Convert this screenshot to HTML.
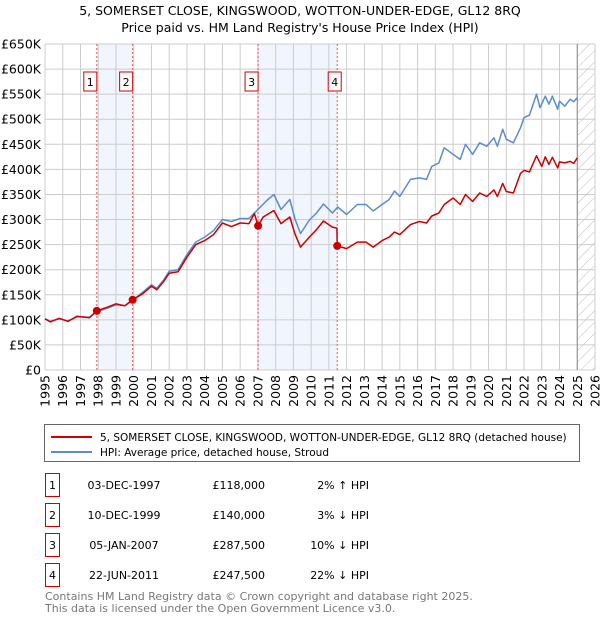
<!DOCTYPE html>
<html><head><meta charset="utf-8"><style>
body{margin:0;background:#fff;font-family:"Liberation Sans","DejaVu Sans",sans-serif;}
#wrap{position:relative;width:600px;height:620px;overflow:hidden}
svg text{font-family:"DejaVu Sans","Liberation Sans",sans-serif}
</style></head><body><div id="wrap">
<svg id="chart" width="600" height="620"></svg>
</div>
<script>
const yearTicks=[1995,1996,1997,1998,1999,2000,2001,2002,2003,2004,2005,2006,2007,2008,2009,2010,2011,2012,2013,2014,2015,2016,2017,2018,2019,2020,2021,2022,2023,2024,2025,2026];
const priceTicks=[0,50,100,150,200,250,300,350,400,450,500,550,600,650];
const priceLabels=["£0","£50K","£100K","£150K","£200K","£250K","£300K","£350K","£400K","£450K","£500K","£550K","£600K","£650K"];
const hpiT=[1995,1995.3,1995.8,1996.3,1996.8,1997.5,1997.9,1998.5,1999,1999.5,1999.9,2000.5,2001,2001.3,2001.7,2002,2002.5,2003,2003.5,2004,2004.5,2005,2005.5,2006,2006.5,2007,2007.5,2007.9,2008.3,2008.8,2009.1,2009.4,2009.9,2010.3,2010.7,2011.2,2011.5,2012,2012.6,2013.1,2013.5,2014,2014.4,2014.7,2015,2015.6,2016.1,2016.5,2016.8,2017.2,2017.5,2018,2018.4,2018.7,2019.1,2019.5,2019.9,2020.3,2020.5,2020.8,2021,2021.4,2021.8,2022,2022.3,2022.7,2022.9,2023.2,2023.4,2023.6,2023.9,2024,2024.3,2024.6,2024.8,2025];
const hpiV=[102,97,102,98,106,105,116,123,130,128,138,155,170,163,180,197,200,230,255,265,278,300,296,302,302,320,338,350,320,340,300,272,299,313,331,313,325,310,330,330,317,330,340,357,346,380,383,380,406,413,443,430,420,450,430,453,446,463,446,480,460,453,483,503,508,550,523,546,530,546,520,536,526,540,535,543];
const redT=[1995,1995.3,1995.8,1996.3,1996.8,1997.5,1997.92,1998.5,1999,1999.5,1999.94,2000.5,2001,2001.3,2001.7,2002,2002.5,2003,2003.5,2004,2004.5,2005,2005.5,2006,2006.5,2006.8,2007.01,2007.3,2007.9,2008.3,2008.8,2009.1,2009.4,2009.9,2010.3,2010.7,2011.2,2011.45,2011.47,2012,2012.6,2013.1,2013.5,2014,2014.4,2014.7,2015,2015.6,2016.1,2016.5,2016.8,2017.2,2017.5,2018,2018.4,2018.7,2019.1,2019.5,2019.9,2020.3,2020.5,2020.8,2021,2021.4,2021.8,2022,2022.3,2022.7,2023,2023.2,2023.4,2023.6,2023.9,2024,2024.3,2024.6,2024.8,2025];
const redV=[102,96,103,97,107,104,118,125,132,128,140,152,167,160,177,193,196,225,250,258,270,293,286,293,292,312,287.5,305,318,292,305,270,245,265,280,297,285,283,247.5,242,255,255,245,258,265,275,270,290,296,293,307,313,330,343,330,350,336,353,346,359,346,372,356,353,392,398,395,427,406,425,410,424,403,415,413,416,412,423];
const saleT=[1997.92,1999.94,2007.01,2011.47];
const saleV=[118,140,287.5,247.5];
const saleLabels=["1","2","3","4"];
const saleDates=["03-DEC-1997","10-DEC-1999","05-JAN-2007","22-JUN-2011"];
const salePrices=["£118,000","£140,000","£287,500","£247,500"];
const saleHpi=["2% ↑ HPI","3% ↓ HPI","10% ↓ HPI","22% ↓ HPI"];

const NS="http://www.w3.org/2000/svg";
const svg=document.getElementById('chart');
const L=45,R=595,T=44,B=370;
const X=t=>L+(t-1995)/(2026-1995)*(R-L);
const Y=v=>B-v/650*(B-T);
function mk(tag,attrs,parent){const e=document.createElementNS(NS,tag);for(const k in attrs)e.setAttribute(k,attrs[k]);(parent||svg).appendChild(e);return e;}
function tx(s,attrs,name){const e=mk('text',attrs);e.textContent=s;


return e;}

tx("5, SOMERSET CLOSE, KINGSWOOD, WOTTON-UNDER-EDGE, GL12 8RQ",{x:300,y:15,'text-anchor':'middle','font-size':12.5,fill:'#000'},'chart-title');
tx("Price paid vs. HM Land Registry's House Price Index (HPI)",{x:300,y:32,'text-anchor':'middle','font-size':12.5,fill:'#000'},'chart-subtitle');

[[0,1],[2,3]].forEach(p=>{const r=mk('rect',{x:X(saleT[p[0]]),y:T,width:X(saleT[p[1]])-X(saleT[p[0]]),height:B-T,fill:'#eef3fc',opacity:0.8});

});
const defs=mk('defs',{});
const pat=mk('pattern',{id:'h',width:8,height:8,patternUnits:'userSpaceOnUse',patternTransform:'rotate(45)'},defs);
mk('line',{x1:0,y1:0,x2:0,y2:8,stroke:'#bbb','stroke-width':1},pat);
const hr=mk('rect',{x:X(2025),y:T,width:R-X(2025),height:B-T,fill:'url(#h)'});


yearTicks.forEach(t=>{const l=mk('line',{x1:X(t),x2:X(t),y1:T,y2:B,stroke:'#ccc','stroke-width':1});


tx(String(t),{transform:`translate(${X(t)+4.5},375) rotate(-90)`,'text-anchor':'end','font-size':12.5,fill:'#000'},'x-tick-label');});
priceTicks.forEach((v,i)=>{const l=mk('line',{x1:L,x2:R,y1:Y(v),y2:Y(v),stroke:'#ccc','stroke-width':1});


tx(priceLabels[i],{x:41,y:Y(v)+4.5,'text-anchor':'end','font-size':12.5,fill:'#000'},'y-tick-label');});
const vl=mk('line',{x1:X(2025),x2:X(2025),y1:T,y2:B,stroke:'#888','stroke-width':1});


saleT.forEach((t,i)=>{const l=mk('line',{x1:X(t),x2:X(t),y1:T,y2:B,stroke:'#e55','stroke-width':1,'stroke-dasharray':'2,2'});


const bx=X(t)-(i==3?9:13);
const r=mk('rect',{x:bx,y:72,width:13,height:19,fill:'#fff',stroke:'#c00','stroke-width':1});


tx(saleLabels[i],{x:bx+6.5,y:86,'text-anchor':'middle','font-size':11,fill:'#000'},'sale-label-number');});
function line(ts,vs,color,name){const d=ts.map((t,i)=>(i?'L':'M')+X(t).toFixed(1)+','+Y(vs[i]).toFixed(1)).join('');
const p=mk('path',{d,fill:'none',stroke:color,'stroke-width':1.5,'stroke-linejoin':'round'});

}
line(hpiT,hpiV,'#5b8bd0','hpi-line');
line(redT,redV,'#cc0000','price-paid-line');
saleT.forEach((t,i)=>{const c=mk('circle',{cx:X(t),cy:Y(saleV[i]),r:4,fill:'#cc0000'});

});
const lg=mk('rect',{x:44.5,y:424.5,width:535,height:37,fill:'#fff',stroke:'#666','stroke-width':1});


const l1=mk('line',{x1:51,x2:92,y1:437,y2:437,stroke:'#cc0000','stroke-width':2});


const l2=mk('line',{x1:51,x2:92,y1:452,y2:452,stroke:'#5b8bd0','stroke-width':2});


tx("5, SOMERSET CLOSE, KINGSWOOD, WOTTON-UNDER-EDGE, GL12 8RQ (detached house)",{x:100,y:441,'font-size':10.5,fill:'#000'},'legend-entry-price');
tx("HPI: Average price, detached house, Stroud",{x:100,y:456,'font-size':10.5,fill:'#000'},'legend-entry-hpi');
saleT.forEach((t,i)=>{const y=483+i*30;
const r=mk('rect',{x:45.5,y:y-9.5,width:14,height:23,fill:'none',stroke:'#c00','stroke-width':1});


tx(saleLabels[i],{x:52.5,y:y+6,'text-anchor':'middle','font-size':11,fill:'#000'},'table-number');
tx(saleDates[i],{x:124,y:y+6,'text-anchor':'middle','font-size':11,fill:'#000'},'table-date');
tx(salePrices[i],{x:265,y:y+6,'text-anchor':'end','font-size':11,fill:'#000'},'table-price');
tx(saleHpi[i],{x:369,y:y+6,'text-anchor':'end','font-size':11,fill:'#000'},'table-hpi-diff');});
tx("Contains HM Land Registry data © Crown copyright and database right 2025.",{x:45,y:600,'font-size':11,fill:'#777'},'footer-copyright');
tx("This data is licensed under the Open Government Licence v3.0.",{x:45,y:612,'font-size':11,fill:'#777'},'footer-licence');
</script></body></html>
